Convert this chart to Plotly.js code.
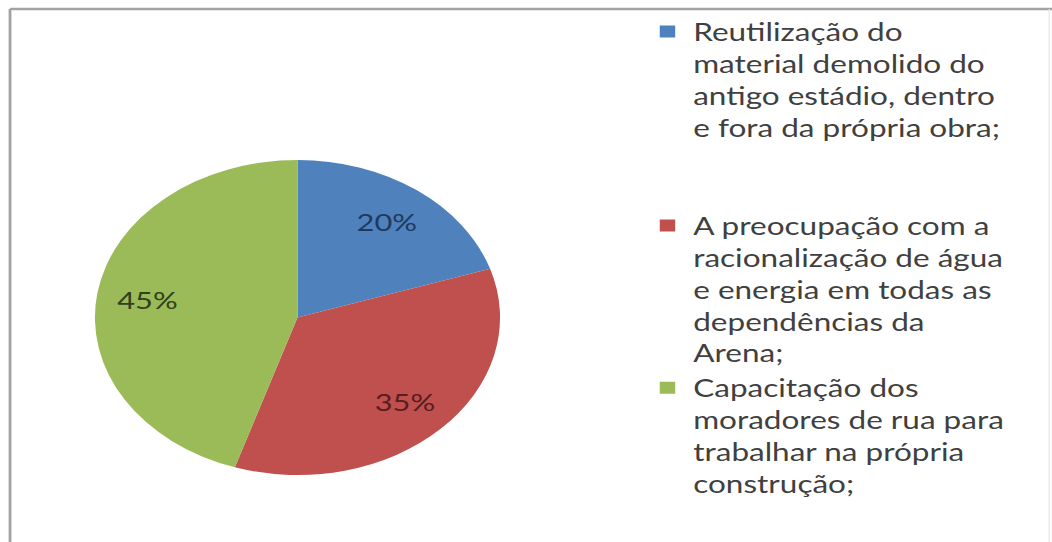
<!DOCTYPE html>
<html>
<head>
<meta charset="utf-8">
<script src="https://cdn.plot.ly/plotly-3.0.1.min.js"></script>
<style>
html,body{margin:0;padding:0;overflow:hidden;background:#fff}
#wrap{width:1052px;height:542px;overflow:hidden;position:relative}
#chart{width:818px;height:542px;transform:scaleX(1.2861);transform-origin:0 0}
</style>
</head>
<body>
<div id="wrap"><div id="chart"></div></div>
<script>
const labels = [
  "Reutilização do<br>material demolido do<br>antigo estádio, dentro<br>e fora da própria obra;<br> <br> ",
  "A preocupação com a<br>racionalização de água<br>e energia em todas as<br>dependências da<br>Arena;",
  "Capacitação dos<br>moradores de rua para<br>trabalhar na própria<br>construção;"
];
const values = [20, 35, 45];
const sliceColors = ["#4F81BD", "#C0504D", "#9BBB59"];
const pctColors = ["#1F3A5E", "#5A1C1E", "#2F4219"];

const W = 818, H = 542;
const cx = 231.3, cy = 317.5, r = 157.5;
const pieDomain = {x: [(cx - r) / W, (cx + r) / W], y: [1 - (cy + r) / H, 1 - (cy - r) / H]};

const pie = {
  type: "pie",
  labels: labels,
  values: values,
  sort: false,
  direction: "clockwise",
  rotation: 0,
  marker: {colors: sliceColors, line: {width: 0}},
  textinfo: "none",
  hoverinfo: "label+percent",
  domain: pieDomain
};

// transparent ring over the pie that carries the percentage labels further out
const pctRing = {
  type: "pie",
  labels: labels,
  values: values,
  sort: false,
  direction: "clockwise",
  rotation: 0,
  hole: 0.5,
  showlegend: false,
  marker: {colors: ["rgba(0,0,0,0)", "rgba(0,0,0,0)", "rgba(0,0,0,0)"], line: {width: 0}},
  textinfo: "percent",
  textposition: "inside",
  insidetextorientation: "horizontal",
  textfont: {family: "Lato, 'Open Sans', sans-serif", size: 24, color: pctColors},
  hoverinfo: "skip",
  domain: pieDomain
};

const layout = {
  width: W, height: H,
  margin: {l: 0, r: 0, t: 0, b: 0},
  paper_bgcolor: "#ffffff",
  showlegend: true,
  legend: {
    x: 499 / W, xanchor: "left",
    y: 1 - 9 / H, yanchor: "top",
    valign: "top",
    font: {family: "Lato, 'Open Sans', sans-serif", size: 24.5, color: "#404040"},
    bgcolor: "rgba(0,0,0,0)",
    borderwidth: 0
  },
  shapes: [
    {type: "line", xref: "paper", yref: "paper", x0: 7.8 / W, x1: 1, y0: 1 - 9 / H, y1: 1 - 9 / H, line: {color: "#a3a3a3", width: 2.5}},
    {type: "line", xref: "paper", yref: "paper", x0: 7.8 / W, x1: 7.8 / W, y0: 0, y1: 1 - 9 / H, line: {color: "#a3a3a3", width: 2.2}},
    {type: "line", xref: "paper", yref: "paper", x0: 815.8 / W, x1: 815.8 / W, y0: 0, y1: 1 - 9 / H, line: {color: "#e6e6e6", width: 1}}
  ]
};

Plotly.newPlot("chart", [pie, pctRing], layout, {displayModeBar: false, staticPlot: true});
</script>
</body>
</html>
